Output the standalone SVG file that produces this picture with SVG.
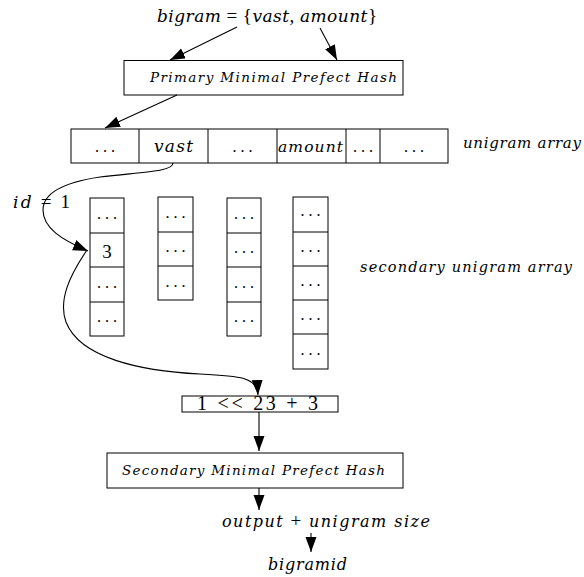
<svg xmlns="http://www.w3.org/2000/svg" width="584" height="577" viewBox="0 0 584 577">
  <style>
    .box { fill: #fff; stroke: #000; stroke-width: 1; }
    .edge { fill: none; stroke: #000; stroke-width: 1.1; }
    .it { font-family: "DejaVu Serif", "Liberation Serif", serif; font-style: italic; fill: #000; }
    .rm { font-family: "Liberation Serif", "DejaVu Serif", serif; font-style: normal; fill: #000; }
    .dots { font-family: "Liberation Serif", "DejaVu Serif", serif; font-size: 16px; fill: #000; text-anchor: middle; }
  </style>
  <defs>
    <marker id="arrow" markerUnits="userSpaceOnUse" markerWidth="16" markerHeight="12" refX="15" refY="5.5" orient="auto">
      <path d="M0,0 L15,5.5 L0,11 z" fill="#000"/>
    </marker>
  </defs>

  <!-- input bigram -->
  <g id="bigram">
    <text x="157" y="22" font-size="17" textLength="220" lengthAdjust="spacing"><tspan class="it">bigram</tspan><tspan class="rm" font-size="19"> = {</tspan><tspan class="it">vast</tspan><tspan class="rm" font-size="19">, </tspan><tspan class="it">amount</tspan><tspan class="rm" font-size="19">}</tspan></text>
  </g>

  <!-- primary hash -->
  <g id="primary-hash">
    <rect class="box" x="124" y="60.5" width="279" height="34.5"/>
    <text class="it" x="150" y="82" font-size="13.5" textLength="247" lengthAdjust="spacing">Primary Minimal Prefect Hash</text>
  </g>

  <!-- unigram array -->
  <g id="unigram-array">
    <rect class="box" x="71" y="129" width="377" height="34"/>
    <line x1="139" y1="129" x2="139" y2="163" stroke="#000"/>
    <line x1="208" y1="129" x2="208" y2="163" stroke="#000"/>
    <line x1="277" y1="129" x2="277" y2="163" stroke="#000"/>
    <line x1="346" y1="129" x2="346" y2="163" stroke="#000"/>
    <line x1="380" y1="129" x2="380" y2="163" stroke="#000"/>
    <text class="dots" x="105" y="152">. . .</text>
    <text class="it" x="154" y="152" font-size="17" textLength="39" lengthAdjust="spacing">vast</text>
    <text class="dots" x="242.5" y="152">. . .</text>
    <text class="it" x="278" y="152" font-size="15.5" textLength="65" lengthAdjust="spacing">amount</text>
    <text class="dots" x="363" y="152">. . .</text>
    <text class="dots" x="414" y="152">. . .</text>
  </g>
  <g id="unigram-array-label">
    <text class="it" x="463" y="148" font-size="15" textLength="118" lengthAdjust="spacing">unigram array</text>
  </g>

  <!-- id label -->
  <g id="id-label">
    <text x="13" y="208" font-size="17" textLength="57" lengthAdjust="spacing"><tspan class="it">id</tspan><tspan class="rm" font-size="19"> = 1</tspan></text>
  </g>

  <!-- secondary unigram arrays -->
  <g id="stack-1">
    <rect class="box" x="90" y="198" width="34" height="138"/>
    <line x1="90" y1="233" x2="124" y2="233" stroke="#000"/>
    <line x1="90" y1="267" x2="124" y2="267" stroke="#000"/>
    <line x1="90" y1="302" x2="124" y2="302" stroke="#000"/>
    <text class="dots" x="107" y="219">. . .</text>
    <text class="rm" x="107" y="258" font-size="19" text-anchor="middle">3</text>
    <text class="dots" x="107" y="288">. . .</text>
    <text class="dots" x="107" y="322">. . .</text>
  </g>
  <g id="stack-2">
    <rect class="box" x="158" y="197" width="35" height="103"/>
    <line x1="158" y1="232" x2="193" y2="232" stroke="#000"/>
    <line x1="158" y1="266" x2="193" y2="266" stroke="#000"/>
    <text class="dots" x="175.5" y="218">. . .</text>
    <text class="dots" x="175.5" y="252">. . .</text>
    <text class="dots" x="175.5" y="287">. . .</text>
  </g>
  <g id="stack-3">
    <rect class="box" x="227" y="198" width="34" height="138"/>
    <line x1="227" y1="233" x2="261" y2="233" stroke="#000"/>
    <line x1="227" y1="267" x2="261" y2="267" stroke="#000"/>
    <line x1="227" y1="302" x2="261" y2="302" stroke="#000"/>
    <text class="dots" x="244" y="219">. . .</text>
    <text class="dots" x="244" y="253">. . .</text>
    <text class="dots" x="244" y="288">. . .</text>
    <text class="dots" x="244" y="322">. . .</text>
  </g>
  <g id="stack-4">
    <rect class="box" x="293" y="197" width="35" height="172"/>
    <line x1="293" y1="232" x2="328" y2="232" stroke="#000"/>
    <line x1="293" y1="266" x2="328" y2="266" stroke="#000"/>
    <line x1="293" y1="300" x2="328" y2="300" stroke="#000"/>
    <line x1="293" y1="334" x2="328" y2="334" stroke="#000"/>
    <text class="dots" x="310.5" y="216">. . .</text>
    <text class="dots" x="310.5" y="252">. . .</text>
    <text class="dots" x="310.5" y="286">. . .</text>
    <text class="dots" x="310.5" y="320">. . .</text>
    <text class="dots" x="310.5" y="355">. . .</text>
  </g>
  <g id="secondary-array-label">
    <text class="it" x="360" y="272" font-size="14.5" textLength="212" lengthAdjust="spacing">secondary unigram array</text>
  </g>

  <!-- combined key -->
  <g id="key">
    <rect class="box" x="182" y="396" width="156" height="16"/>
    <text class="rm" x="197" y="410" font-size="20" textLength="121" lengthAdjust="spacing">1 &lt;&lt; 23 + 3</text>
  </g>

  <!-- secondary hash -->
  <g id="secondary-hash">
    <rect class="box" x="107" y="453" width="296" height="35"/>
    <text class="it" x="122" y="475" font-size="13.5" textLength="263" lengthAdjust="spacing">Secondary Minimal Prefect Hash</text>
  </g>

  <!-- result -->
  <g id="output">
    <text x="222" y="527" font-size="16" textLength="208" lengthAdjust="spacing"><tspan class="it">output</tspan><tspan class="rm" font-size="19"> + </tspan><tspan class="it">unigram size</tspan></text>
  </g>
  <g id="bigramid">
    <text class="it" x="268" y="570" font-size="16" textLength="79" lengthAdjust="spacing">bigramid</text>
  </g>

  <!-- connectors -->
  <g id="connectors">
    <line class="edge" x1="237" y1="27" x2="170" y2="60" marker-end="url(#arrow)"/>
    <line class="edge" x1="320" y1="28" x2="337" y2="60" marker-end="url(#arrow)"/>
    <line class="edge" x1="177" y1="95" x2="105" y2="128" marker-end="url(#arrow)"/>
    <path class="edge" d="M173,163 C173,172 140,172 100,177 C60,183 43,195 43,210 C43,228 62,240 88,251" marker-end="url(#arrow)"/>
    <path class="edge" d="M87,250 C70,275 58,300 66,322 C80,358 140,371 200,374 C240,376 257,377 258,395" marker-end="url(#arrow)"/>
    <line class="edge" x1="259" y1="412" x2="259" y2="451" marker-end="url(#arrow)"/>
    <line class="edge" x1="259" y1="488" x2="259" y2="510" marker-end="url(#arrow)"/>
    <line class="edge" x1="311" y1="533" x2="311" y2="552" marker-end="url(#arrow)"/>
  </g>
</svg>
